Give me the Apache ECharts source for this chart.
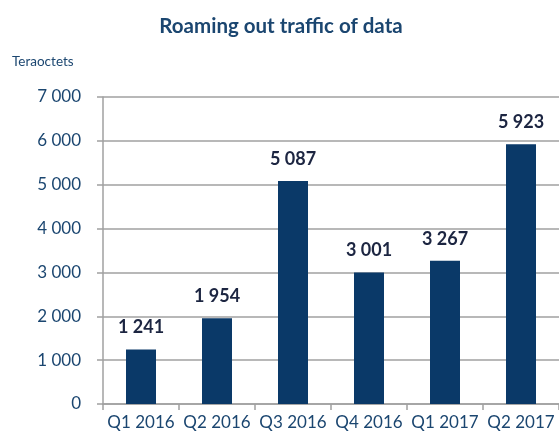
<!DOCTYPE html>
<html>
<head>
<meta charset="utf-8">
<script src="https://cdn.jsdelivr.net/npm/echarts@6/dist/echarts.min.js"></script>
<style>
	html, body { margin: 0; padding: 0; background: #fff; }
	#main { width: 559px; height: 442px; }
</style>
</head>
<body>
<div id="main"></div>
<script>
var categories = [ 'Q1 2016', 'Q2 2016', 'Q3 2016', 'Q4 2016', 'Q1 2017', 'Q2 2017' ];
var traffic = [ 1241, 1954, 5087, 3001, 3267, 5923 ];
var yTicks = [ 0, 1000, 2000, 3000, 4000, 5000, 6000, 7000 ];

// separateur de milliers : espace
function fmt(v) {
	return String(v).replace(/\B(?=(\d{3})+(?!\d))/g, ' ');
}

var chart = echarts.init(document.getElementById('main'));
var option = {
	animation : false,
	textStyle : {
		fontFamily : 'Lato'
	},
	title : {
		text : 'Roaming out traffic of data',
		left : 276,
		top : 11,
		textAlign : 'center',
		textStyle : {
			fontFamily : 'Lato',
			fontSize : 20.5,
			fontWeight : 'bold',
			color : '#1b4670'
		}
	},
	graphic : [ {
		type : 'text',
		left : 12,
		top : 55,
		style : {
			text : 'Teraoctets',
			font : '13.5px Lato',
			fill : '#1b4670'
		}
	} ],
	grid : {
		left : 103,
		right : -3,
		top : 97,
		bottom : 38
	},
	xAxis : {
		type : 'category',
		data : categories,
		axisLine : {
			lineStyle : { color : '#a0a0a0', width : 1.5 }
		},
		axisTick : {
			show : true,
			length : 6,
			lineStyle : { color : '#a0a0a0', width : 1.5 }
		},
		axisLabel : {
			fontFamily : 'Lato',
			fontSize : 17,
			color : '#1b4670',
			margin : 10,
			interval : 0
		}
	},
	yAxis : {
		type : 'value',
		min : yTicks[0],
		max : yTicks[yTicks.length - 1],
		interval : 1000,
		axisLine : {
			show : true,
			lineStyle : { color : '#a0a0a0', width : 1.5 }
		},
		axisTick : {
			show : true,
			length : 6,
			lineStyle : { color : '#a0a0a0', width : 1.5 }
		},
		splitLine : {
			lineStyle : { color : '#a0a0a0', width : 1.5 }
		},
		axisLabel : {
			fontFamily : 'Lato',
			fontSize : 17,
			color : '#1b4670',
			margin : 22,
			formatter : function(v) {
				return fmt(v);
			}
		}
	},
	series : [ {
		type : 'bar',
		data : traffic,
		barWidth : 30,
		itemStyle : {
			color : '#0a3968'
		},
		label : {
			show : true,
			position : 'top',
			distance : 13,
			fontFamily : 'Lato',
			fontSize : 18,
			fontWeight : 'bold',
			color : '#1c2541',
			formatter : function(p) {
				return fmt(p.value);
			}
		}
	} ]
};
chart.setOption(option);
</script>
</body>
</html>
